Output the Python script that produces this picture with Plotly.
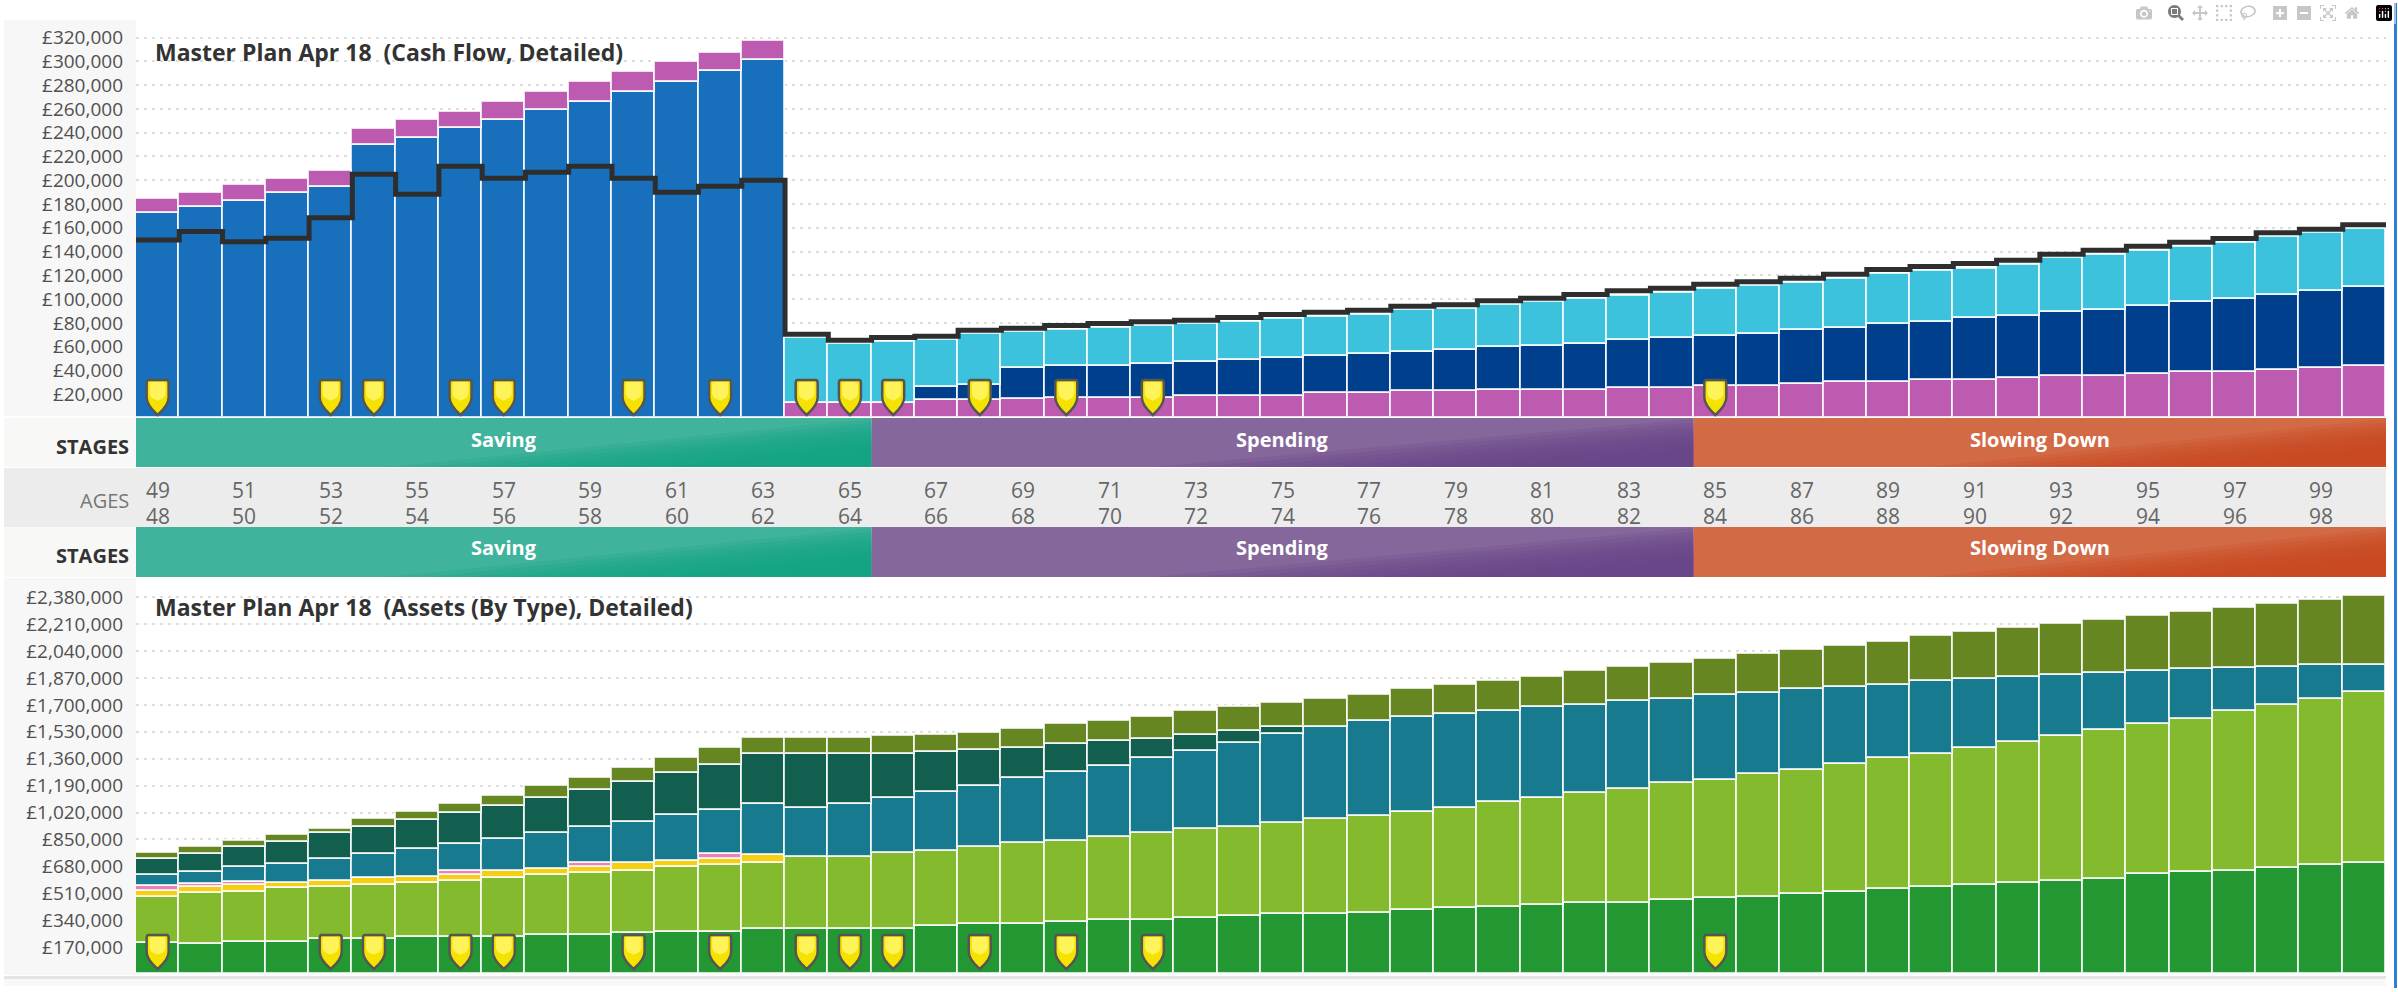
import plotly.graph_objects as go

W, H = 2398, 992
PL, PR = 136, 2386

ages = list(range(48, 100))
pin_ages = [48, 52, 53, 55, 56, 59, 61, 63, 64, 65, 67, 69, 71, 84]

# ---- Cash flow (tops of each stacked band, GBP) ----
income_top = [172500, 177600, 182650, 189400, 194400, 229200, 235650, 243800, 250500, 258900,
              265650, 273800, 282200, 292000, 300700] + [0] * 37
other_top = [184050, 189400, 195800, 200900, 207600, 242650, 250800, 257000, 265900, 274050,
             282500, 290900, 299000, 307400, 317250,
             13000, 13000, 13000, 15000, 15000, 15800, 17200, 17200, 17200, 18900, 18900, 18900,
             20850, 20850, 22800, 22800, 23400, 23400, 23950, 25650, 25650, 27300, 27300, 29000,
             30700, 30700, 32350, 32350, 34050, 35700, 35700, 37400, 39100, 39100, 40750, 42150, 43550]
pension_top = [0] * 15 + [13000, 13000, 13000, 26200, 28150, 42450, 44150, 44150, 45800, 47200,
               48900, 50850, 52550, 54250, 55900, 57600, 59300, 60950, 62650, 66000, 67700, 69350,
               71050, 74400, 76100, 79200, 80850, 84250, 85900, 89000, 90700, 94050, 97400, 100500,
               103850, 107200, 110600]
draw_top = [0] * 15 + [67700, 62650, 64050, 66000, 70500, 72200, 74400, 75550, 77200, 78900, 81150,
            83400, 85050, 86750, 90700, 91800, 95150, 97400, 100500, 103000, 105250, 108900, 110850,
            113950, 117300, 120950, 123750, 125700, 129100, 134150, 137200, 140600, 143950, 147300,
            152350, 155750, 158800]
spend_line = [149600, 156850, 148150, 151250, 168350, 205100, 188250, 211800, 201700, 206750,
              211800, 201700, 189950, 195000, 200050,
              70500, 65450, 67700, 68800, 73850, 75550, 77800, 79450, 80850, 82300, 84500, 87050,
              89000, 90700, 94050, 95150, 98550, 100800, 103850, 106950, 109200, 112550, 114500,
              117600, 120950, 124900, 127400, 129950, 132750, 137800, 141150, 144550, 147900,
              150950, 155750, 158800, 162450]

# ---- Assets (tops of each stacked band, GBP) ----
a1_top = [193800, 189600, 204300, 204300, 219100, 219100, 235900, 235900, 235900, 246500, 246500,
          257000, 267500, 267500, 282300, 282300, 286500, 286500, 303300, 316000, 316000, 330700,
          341300, 341300, 356000, 366500, 379200, 379200, 387600, 404500, 415000, 421300, 436100,
          450800, 450800, 467700, 478200, 488700, 503500, 516100, 535100, 547700, 560400, 573000,
          589800, 602500, 632000, 644600, 653000, 667800, 688900, 703600]
a2_top = [484500, 514000, 520300, 541400, 551900, 562500, 577200, 589800, 604600, 625700, 636200,
          653000, 678300, 691000, 703600, 741500, 741500, 762600, 779400, 804700, 825800, 842600,
          867900, 893200, 914300, 931100, 952200, 977500, 998500, 1025900, 1051200, 1089100,
          1112300, 1141800, 1167100, 1205000, 1226000, 1264000, 1289200, 1327100, 1367200, 1390400,
          1426200, 1464100, 1504100, 1539900, 1577800, 1613700, 1664200, 1700000, 1737900, 1784300]
a3_yellow = [42200, 33700, 42200, 35800, 37900, 42100, 37900, 38000, 46300, 37900, 42100, 46400,
             35800, 37900, 48500] + [0] * 37
a4_pink = [29400, 21100, 18900, 0, 0, 0, 0, 25200, 0, 0, 25300, 0, 0, 27400, 0] + [0] * 37
a5_top = [625700, 646700, 674100, 695200, 724700, 758400, 787900, 821600, 851100, 893200, 931100,
          962700, 1004900, 1036400, 1072300, 1051200, 1072300, 1112300, 1150200, 1190200, 1238700,
          1276600, 1314500, 1365100, 1409300, 1462000, 1516800, 1563100, 1601000, 1626300, 1643100,
          1664200, 1689500, 1700000, 1727400, 1737900, 1763200, 1778000, 1799000, 1811700, 1824300,
          1851700, 1862200, 1879100, 1889600, 1904400, 1914900, 1927500, 1935900, 1938000, 1952800,
          1952800]
a6_top = [724700, 758400, 800500, 836300, 889000, 926900, 973200, 1015400, 1061700, 1112300, 1162900,
          1213400, 1272400, 1322900, 1388200, 1388200, 1388200, 1388200, 1403000, 1415600, 1430400,
          1451400, 1472500, 1487300, 1510400, 1533600, 1558900]
a7_top = [762600, 800500, 838400, 876300, 914300, 977500, 1025900, 1074400, 1127000, 1188100, 1236600,
          1299800, 1363000, 1426200, 1489400, 1489400, 1489400, 1502000, 1512500, 1525200, 1550400,
          1577800, 1601000, 1626300, 1662100, 1687400, 1712700, 1737900, 1763200, 1799000, 1824300,
          1849600, 1874900, 1912800, 1938000, 1963300, 1988600, 2024400, 2049700, 2075000, 2100300,
          2138200, 2163500, 2188800, 2214000, 2239300, 2264600, 2287800, 2313000, 2338300, 2363600,
          2388900]

cash_ticks = list(range(20000, 340000, 20000))
asset_ticks = list(range(170000, 2550000, 170000))

stage_names = ["Saving", "Spending", "Slowing Down"]
stage_start = [48, 65, 84]
stage_end = [64, 83, 99]
stage_base = ["#40b39c", "#86679c", "#d36a46"]
stage_dark = ["#12a484", "#6b4689", "#ca4a1f"]

C_BLUE, C_PURPLE, C_CYAN, C_NAVY = "#1870bd", "#bd5bb1", "#3dc2dd", "#003f8c"
C_LINE = "#2e2e2e"
C_DG, C_LG, C_YE, C_PK, C_TE, C_DT, C_OL = ("#239732", "#84ba2e", "#f5cf11", "#f080ba",
                                            "#177a8e", "#125f4f", "#668622")
FONT = "Open Sans"


def px_x(p):
    return p / W


def px_y(p):
    return 1 - p / H


def nz(v):
    return [x if x and x > 0 else None for x in v]


def rect(x0, y0, x1, y1, color, layer="below"):
    return dict(type="rect", xref="paper", yref="paper", x0=px_x(x0), x1=px_x(x1),
                y0=px_y(y1), y1=px_y(y0), fillcolor=color, line_width=0, layer=layer)


fig = go.Figure()
sep = dict(color="rgba(255,255,255,0.78)", width=1.8)


def bars(y, color, name, ax):
    fig.add_bar(x=ages, y=nz(y), name=name, marker=dict(color=color, line=sep), width=1,
                xaxis="x" if ax == 1 else "x2", yaxis="y" if ax == 1 else "y2", showlegend=False)


# cash flow stack (segments are the difference of consecutive band tops)
cf_purple_low = [o if i >= 15 else 0 for i, o in enumerate(other_top)]
cf_blue = income_top
cf_purple_high = [o - b if i < 15 else 0 for i, (o, b) in enumerate(zip(other_top, income_top))]
cf_navy = [p - o if i >= 15 else 0 for i, (p, o) in enumerate(zip(pension_top, other_top))]
cf_cyan = [d - p if i >= 15 else 0 for i, (d, p) in enumerate(zip(draw_top, pension_top))]
bars(cf_blue, C_BLUE, "Income", 1)
bars(cf_purple_low, C_PURPLE, "Other low", 1)
bars(cf_purple_high, C_PURPLE, "Other high", 1)
bars(cf_navy, C_NAVY, "Pension", 1)
bars(cf_cyan, C_CYAN, "Drawdown", 1)
fig.add_scatter(x=[ages[0] - 0.5] + ages + [ages[-1] + 0.5],
                y=[spend_line[0]] + spend_line + [spend_line[-1]],
                mode="lines", line=dict(color=C_LINE, width=5, shape="hvh"),
                xaxis="x", yaxis="y", showlegend=False, name="Spending")

# assets stack
a_yellow_top = [a + y for a, y in zip(a2_top, a3_yellow)]
a_pink_top = [a + p for a, p in zip(a_yellow_top, a4_pink)]
full_a6 = a6_top + a5_top[len(a6_top):]
bars(a1_top, C_DG, "Cash", 2)
bars([b - a for a, b in zip(a1_top, a2_top)], C_LG, "ISA", 2)
bars(a3_yellow, C_YE, "Bonds", 2)
bars(a4_pink, C_PK, "Other", 2)
bars([b - a for a, b in zip(a_pink_top, a5_top)], C_TE, "Pension", 2)
bars([b - a for a, b in zip(a5_top, full_a6)], C_DT, "Property", 2)
bars([b - a for a, b in zip(full_a6, a7_top)], C_OL, "Investments", 2)

shapes = [
    rect(4, 20, PL, 416, "#f7f7f7"),
    rect(4, 418, PL, 467, "#f8f8f6"),
    rect(4, 527, PL, 577, "#f8f8f6"),
    rect(4, 468, PR, 527, "#ececec"),
    rect(4, 578, PL, 975, "#f7f7f7"),
    rect(4, 976, PR, 979, "#e6e4e6"),
    rect(4, 979, PR, 986, "#f8f8f8"),
    rect(2394, 3, 2397, 988, "#2f80d4", layer="above"),
]

bands = [(418, 467), (527, 577)]
for name, s0, s1, base, dark in zip(stage_names, stage_start, stage_end, stage_base, stage_dark):
    for top, bot in bands:
        shapes.append(dict(type="rect", xref="x", yref="paper", x0=s0 - 0.5, x1=s1 + 0.5,
                           y0=px_y(bot), y1=px_y(top), fillcolor=base, line_width=0, layer="above"))
        span = s1 - s0 + 1
        steps = 10
        for k in range(steps):
            frac = 0.66 - 0.055 * k
            rise = 0.98 - 0.07 * k
            xl = s1 + 0.5 - span * frac
            path = (f"M {xl},{px_y(bot)} L {s1 + 0.5},{px_y(bot)} "
                    f"L {s1 + 0.5},{px_y(bot - (bot - top) * rise)} Z")
            shapes.append(dict(type="path", xref="x", yref="paper", path=path, fillcolor=dark,
                               opacity=0.22, line_width=0, layer="above"))


def pin_path(tip, top, half=11):
    mid = tip + (top - tip) * 0.5
    return (f"M {-half + 2},{top} Q {-half},{top} {-half},{top - 3} L {-half},{mid} "
            f"C {-half},{mid - 8} -3,{tip + 3} 0,{tip} C 3,{tip + 3} {half},{mid - 8} {half},{mid} "
            f"L {half},{top - 3} Q {half},{top} {half - 2},{top} Z")


for a in pin_ages:
    for xr, yr, tip, top in (("x", "y", 3, 38), ("x2", "y2", 5, 39)):
        shapes.append(dict(type="path", xref=xr, yref=yr, xsizemode="pixel", ysizemode="pixel",
                           xanchor=a, yanchor=0, path=pin_path(tip, top),
                           fillcolor="#f6e200", line=dict(color="#555555", width=2.5), layer="above"))
        shapes.append(dict(type="path", xref=xr, yref=yr, xsizemode="pixel", ysizemode="pixel",
                           xanchor=a, yanchor=0, path=pin_path(tip + 14, top - 2, 8),
                           fillcolor="#fff35a", line_width=0, layer="above"))

ann = []


def text(x, y, s, size, color, anchor="center", xref="paper", bold=False):
    ann.append(dict(x=x, y=px_y(y), xref=xref, yref="paper", text=f"<b>{s}</b>" if bold else s,
                    showarrow=False, xanchor=anchor, yanchor="middle",
                    font=dict(family=FONT, size=size, color=color)))


text(px_x(153), 52, "Master Plan Apr 18\u00a0\u00a0(Cash Flow, Detailed)", 23, "#333333", "left", bold=True)
text(px_x(153), 607, "Master Plan Apr 18\u00a0\u00a0(Assets (By Type), Detailed)", 23, "#333333", "left", bold=True)
text(px_x(131), 446, "STAGES", 20, "#333333", "right", bold=True)
text(px_x(131), 555, "STAGES", 20, "#333333", "right", bold=True)
text(px_x(131), 501, "AGES", 20, "#777777", "right")
for name, s0, s1 in zip(stage_names, stage_start, stage_end):
    xc = (s0 + s1) / 2
    text(xc, 439, name, 20, "white", xref="x", bold=True)
    text(xc, 547, name, 20, "white", xref="x", bold=True)
for a in ages[::2]:
    text(a, 516, str(a), 21, "#666666", xref="x")
    text(a, 490, str(a + 1), 21, "#666666", xref="x")

xdom = [px_x(PL), px_x(PR)]
xcommon = dict(range=[47.5, 99.5], domain=xdom, showgrid=False, showticklabels=False, zeroline=False,
               ticks="", showline=False)
ycommon = dict(showgrid=True, griddash="3px,5px", gridcolor="#dedede", gridwidth=1.5, zeroline=False,
               showline=False, ticks="", ticklabelstandoff=12,
               tickfont=dict(family=FONT, size=19, color="#505050"))
fig.update_layout(
    width=W, height=H, margin=dict(l=0, r=0, t=0, b=0),
    paper_bgcolor="white", plot_bgcolor="white", barmode="stack", bargap=0, showlegend=False,
    xaxis=dict(anchor="y", **xcommon),
    xaxis2=dict(anchor="y2", **xcommon),
    yaxis=dict(anchor="x", domain=[px_y(418), px_y(22)], range=[0, 333050],
               tickvals=cash_ticks, ticktext=[f"£{v:,}" for v in cash_ticks], **ycommon),
    yaxis2=dict(anchor="x2", domain=[px_y(974), px_y(580)], range=[0, 2489300],
                tickvals=asset_ticks, ticktext=[f"£{v:,}" for v in asset_ticks], **ycommon),
    shapes=shapes, annotations=ann,
)
fig.write_html("out.html", post_script="document.body.style.margin='0';")
